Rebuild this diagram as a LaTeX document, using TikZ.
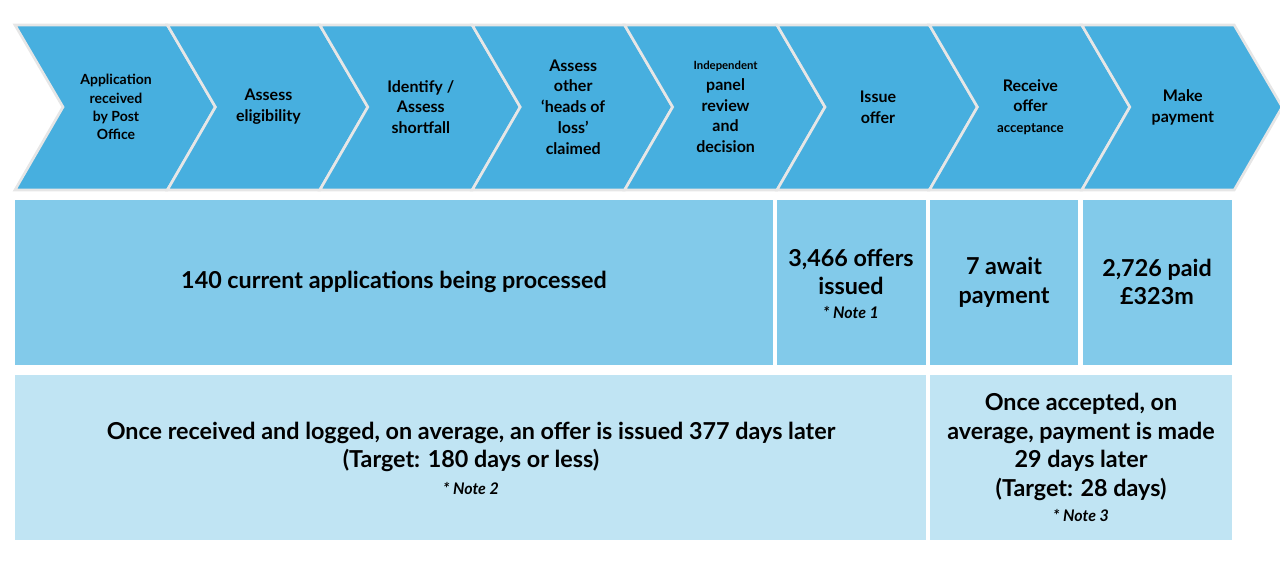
\documentclass[tikz,border=0pt]{standalone}
\usepackage{fontspec}
\setmainfont{Lato}
\usepackage{tikz}
\usetikzlibrary{positioning}
\definecolor{chevblue}{HTML}{47AFDF}
\definecolor{midblue}{HTML}{82CAEA}
\definecolor{paleblue}{HTML}{C0E4F3}
\definecolor{edgegrey}{HTML}{E6E6E6}

\begin{document}
\begin{tikzpicture}[x=0.75pt, y=-0.75pt,
  stage/.style={fill=chevblue, draw=edgegrey, line width=2pt, line join=miter},
  stagetext/.style={align=center, inner sep=0pt},
  box/.style={fill=midblue},
  lowbox/.style={fill=paleblue},
  big/.style={align=center, font=\bfseries\fontsize{17.5}{21.5}\selectfont, inner sep=0pt},
  note/.style={font=\bfseries\itshape\fontsize{12}{14}\selectfont}]
\useasboundingbox (0,0) rectangle (1280,565);

% chevrons
\foreach \i/\lbl/\fs in {0/{Application\\received\\by Post\\Office}/10.5,
  1/{Assess\\eligibility}/12, 2/{Identify /\\Assess\\shortfall}/12,
  3/{Assess\\other\\`heads of\\loss'\\claimed}/12,
  4/{{\fontsize{8.5}{10}\selectfont Independent}\\panel\\review\\and\\decision}/12,
  5/{Issue\\offer}/12, 6/{Receive\\offer\\{\fontsize{10}{12}\selectfont acceptance}}/12,
  7/{Make\\payment}/12} {
  \pgfmathsetmacro{\xs}{15+152.4*\i}
  \pgfmathsetmacro{\bs}{\fs*1.3}
  \draw[stage] (\xs,25) -- ++(152.4,0) -- ++(48,82) -- ++(-48,83) -- ++(-152.4,0)
    -- ++(48,-83) -- cycle;
  \node[stagetext, font=\bfseries\fontsize{\fs pt}{\bs pt}\selectfont] (s\i) at (\xs+101,107) {\lbl};
}

% counts row
\fill[box] (15,200) rectangle (773,365);
\fill[box] (777,200) rectangle (926,365);
\fill[box] (930,200) rectangle (1078,365);
\fill[box] (1083,200) rectangle (1232,365);
\node[big] (current) at (394,282) {140 current applications being processed};
\node[big] (offers) at (851,272) {3,466 offers\\issued};
\node[note, below=5pt of offers] (note1) {* Note 1};
\node[big] (await) at (1004,282) {7 await\\payment};
\node[big] (paid) at (1157,282) {2,726 paid\\£323m};

% timing row
\fill[lowbox] (15,375) rectangle (926,540);
\fill[lowbox] (930,375) rectangle (1232,540);
\node[big] (issue) at (471,447) {Once received and logged, on average, an offer is issued 377 days later\\(Target: 180 days or less)};
\node[note, below=4pt of issue] (note2) {* Note 2};
\node[big] (pay) at (1081,447) {Once accepted, on\\average, payment is made\\29 days later\\(Target: 28 days)};
\node[note, below=3pt of pay] (note3) {* Note 3};
\end{tikzpicture}
\end{document}
